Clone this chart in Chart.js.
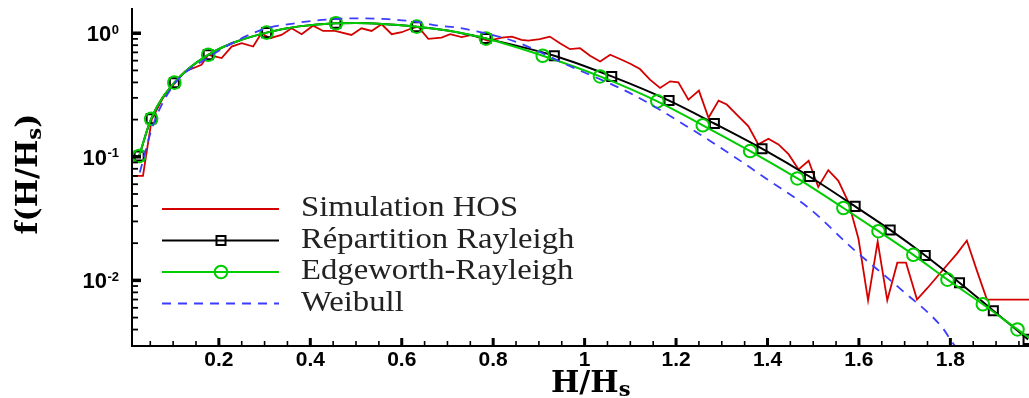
<!DOCTYPE html>
<html>
<head>
<meta charset="utf-8">
<script src="https://cdn.jsdelivr.net/npm/chart.js@4.4.0/dist/chart.umd.min.js"></script>
<style>
html,body{margin:0;padding:0;background:#fff;overflow:hidden;}
#wrap{width:1029px;height:398px;position:relative;}
</style>
</head>
<body>
<div id="wrap"><canvas id="c"></canvas></div>
<script>
// ---- data ----
const seriesLabels = ['Simulation HOS', 'Répartition Rayleigh', 'Edgeworth-Rayleigh', 'Weibull'];

const simX = [0.009,0.034,0.053,0.078,0.104,0.126,0.162,0.177,0.206,0.228,0.250,0.275,0.293,0.312,0.337,0.359,0.381,0.406,0.428,0.454,0.490,0.512,0.534,0.556,0.578,0.600,0.622,0.636,0.658,0.687,0.706,0.731,0.753,0.789,0.819,0.841,0.862,0.877,0.902,0.924,0.946,0.968,0.990,1.012,1.034,1.056,1.081,1.100,1.121,1.143,1.165,1.187,1.205,1.227,1.250,1.271,1.293,1.311,1.336,1.358,1.380,1.402,1.424,1.446,1.468,1.490,1.511,1.533,1.555,1.577,1.599,1.620,1.641,1.662,1.684,1.703,1.727,1.749,1.771,1.792,1.814,1.836,1.858,1.880,2.0];
const simY = [0.070,0.070,0.200,0.301,0.396,0.491,0.556,0.669,0.629,0.780,0.831,0.780,1.000,0.912,0.969,1.097,0.982,1.151,1.043,1.043,0.969,1.097,1.043,1.182,0.982,1.019,1.097,1.130,0.900,0.922,0.982,0.929,0.969,0.867,0.922,0.939,0.883,0.872,0.895,0.939,0.831,0.743,0.757,0.657,0.590,0.669,0.610,0.566,0.513,0.421,0.361,0.408,0.400,0.290,0.343,0.207,0.285,0.265,0.213,0.177,0.126,0.140,0.126,0.105,0.079,0.093,0.057,0.078,0.064,0.043,0.0217,0.0069,0.0206,0.0069,0.0139,0.0139,0.0070,0.0086,0.0107,0.0132,0.0164,0.0210,0.0120,0.0070,0.0070];

const rayX = [0.0256,0.0519,0.1026,0.1766,0.3044,0.456,0.5,0.6326,0.7,0.7843,0.9337,1.0593,1.1847,1.2838,1.388,1.4917,1.5917,1.6683,1.745,1.820,1.894,1.970];
const rayY = [0.1015,0.203,0.398,0.669,1.011,1.204,1.21,1.130,1.05,0.905,0.657,0.447,0.285,0.186,0.1164,0.0693,0.0397,0.0256,0.0159,0.00958,0.00568,0.00333];
const rayMark = [1,1,1,1,1,1,0,1,0,1,1,1,1,1,1,1,1,1,1,1,1,1];

const edgX = [0.0256,0.0519,0.1026,0.1766,0.3044,0.456,0.5,0.6326,0.7,0.7843,0.9083,1.0337,1.159,1.2584,1.362,1.4654,1.566,1.6427,1.719,1.7937,1.871,1.9468,1.975];
const edgY = [0.1015,0.203,0.398,0.669,1.011,1.204,1.21,1.130,1.05,0.905,0.657,0.447,0.281,0.180,0.1113,0.0668,0.0385,0.0250,0.0161,0.01014,0.00641,0.00401,0.00337];
const edgMark = [1,1,1,1,1,1,0,1,0,1,1,1,1,1,1,1,1,1,1,1,1,1,0];

const weiX = [0.027,0.056,0.1,0.175,0.293,0.366,0.425,0.498,0.57,0.629,0.68,0.724,0.767,0.826,0.862,0.961,1.106,1.223,1.325,1.399,1.493,1.587,1.69,1.784,1.803,1.85];
const weiY = [0.0746,0.18,0.376,0.63,1.063,1.204,1.28,1.32,1.30,1.24,1.15,1.109,1.03,0.91,0.82,0.556,0.3186,0.177,0.1015,0.0659,0.0378,0.018,0.00857,0.00408,0.0032,0.0019];

const xTickValues = [0.2,0.4,0.6,0.8,1.0,1.2,1.4,1.6,1.8];
const xTickLabels = ['0.2','0.4','0.6','0.8','1','1.2','1.4','1.6','1.8'];
const yTickValues = [1, 0.1, 0.01];
const yTickExponents = ['0','-1','-2'];

// ---- styles ----
const RED = '#d40000', BLACK = '#000000', GREEN = '#00cc00', BLUE = '#3c3cff';
const pts = (xs, ys) => xs.map((x, i) => ({x: x, y: ys[i]}));

const axesPlugin = {
  id: 'axesDecor',
  afterDatasetsDraw(chart) {
    const ctx = chart.ctx, xs = chart.scales.x, ys = chart.scales.y, a = chart.chartArea;
    ctx.save();
    ctx.strokeStyle = '#000'; ctx.fillStyle = '#000'; ctx.lineCap = 'butt';
    // axis lines
    ctx.lineWidth = 2;
    ctx.beginPath();
    ctx.moveTo(a.left, a.top); ctx.lineTo(a.left, a.bottom + 1); ctx.lineTo(a.right, a.bottom + 1);
    ctx.stroke();
    const yb = a.bottom + 1;
    // x minor ticks
    ctx.lineWidth = 1.6;
    for (let k = 1; k * 0.05 < xs.max; k++) {
      if (k % 4 === 0) continue;
      const px = xs.getPixelForValue(k * 0.05);
      if (px < a.left + 2) continue;
      ctx.beginPath(); ctx.moveTo(px, yb); ctx.lineTo(px, yb - 5); ctx.stroke();
    }
    // x major ticks & labels
    ctx.font = 'bold 21px "Liberation Sans", Arial, sans-serif';
    ctx.textAlign = 'center'; ctx.textBaseline = 'alphabetic';
    xTickValues.forEach((v, i) => {
      const px = xs.getPixelForValue(v);
      ctx.lineWidth = 3;
      ctx.beginPath(); ctx.moveTo(px, yb); ctx.lineTo(px, yb - 8); ctx.stroke();
      ctx.fillText(xTickLabels[i], px, 366);
    });
    // y minor ticks
    ctx.lineWidth = 1.8;
    for (let e = -3; e <= 0; e++) {
      for (let m = 2; m <= 9; m++) {
        const v = m * Math.pow(10, e);
        if (v < ys.min || v > ys.max) continue;
        const py = ys.getPixelForValue(v);
        if (py > a.bottom - 1) continue;
        ctx.beginPath(); ctx.moveTo(a.left, py); ctx.lineTo(a.left + 6, py); ctx.stroke();
      }
    }
    // y major ticks & labels
    yTickValues.forEach((v, i) => {
      const py = ys.getPixelForValue(v);
      ctx.lineWidth = 3.5;
      ctx.beginPath(); ctx.moveTo(a.left, py); ctx.lineTo(a.left + 9, py); ctx.stroke();
      ctx.font = 'bold 13px "Liberation Sans", Arial, sans-serif';
      ctx.textAlign = 'right';
      const ew = ctx.measureText(yTickExponents[i]).width;
      ctx.fillText(yTickExponents[i], 119, py + 0.5);
      ctx.font = 'bold 22px "Liberation Sans", Arial, sans-serif';
      ctx.fillText('10', 119 - ew - 0.5, py + 8);
    });
    // x title  H/H_s
    ctx.textAlign = 'left';
    ctx.font = 'bold 30px "DejaVu Serif", serif';
    ctx.fillText('H/H', 551, 392);
    const w1 = ctx.measureText('H/H').width;
    ctx.font = 'bold 21px "DejaVu Serif", serif';
    ctx.fillText('s', 551 + w1, 396);
    // y title f(H/H_s)
    ctx.save();
    ctx.translate(37, 174);
    ctx.rotate(-Math.PI / 2);
    ctx.font = 'bold 30px "DejaVu Serif", serif';
    const p1 = 'f(H/H', p3 = ')';
    const wa = ctx.measureText(p1).width, wc = ctx.measureText(p3).width;
    ctx.font = 'bold 21px "DejaVu Serif", serif';
    const wb = ctx.measureText('s').width;
    let x0 = -(wa + wb + wc) / 2;
    ctx.font = 'bold 30px "DejaVu Serif", serif';
    ctx.fillText(p1, x0, 0);
    ctx.font = 'bold 21px "DejaVu Serif", serif';
    ctx.fillText('s', x0 + wa, 4);
    ctx.font = 'bold 30px "DejaVu Serif", serif';
    ctx.fillText(p3, x0 + wa + wb, 0);
    ctx.restore();
    // legend
    const ds = chart.data.datasets;
    const legY0 = 209, legStep = 31.5;
    ds.forEach((d, i) => {
      const ly = legY0 + i * legStep;
      ctx.save();
      ctx.strokeStyle = d.borderColor; ctx.lineWidth = 2;
      ctx.setLineDash(d.borderDash || []);
      ctx.beginPath(); ctx.moveTo(162, ly); ctx.lineTo(279, ly); ctx.stroke();
      ctx.setLineDash([]);
      if (d.pointStyle === 'rect') {
        ctx.lineWidth = 2; ctx.strokeRect(216.5, ly - 4.5, 9, 9);
      } else if (d.pointStyle === 'circle' && d.legendMarker) {
        ctx.lineWidth = 2; ctx.beginPath(); ctx.arc(221, ly, 6.3, 0, Math.PI * 2); ctx.stroke();
      }
      ctx.restore();
      ctx.save();
      ctx.fillStyle = '#222';
      ctx.font = '30px "Liberation Serif", "Times New Roman", serif';
      ctx.textAlign = 'left';
      ctx.translate(301, ly + 7);
      ctx.scale(1.09, 1);
      ctx.fillText(d.label, 0, 0);
      ctx.restore();
    });
    ctx.restore();
  }
};

new Chart(document.getElementById('c'), {
  type: 'line',
  data: {
    datasets: [
      { label: seriesLabels[0], data: pts(simX, simY), borderColor: RED, borderWidth: 1.8,
        pointRadius: 0, tension: 0, order: 4, pointStyle: 'line' },
      { label: seriesLabels[1], data: pts(rayX, rayY), borderColor: BLACK, borderWidth: 2,
        pointStyle: 'rect', pointRadius: rayMark.map(m => m ? 6.4 : 0), pointBorderWidth: 2,
        pointBorderColor: BLACK, pointBackgroundColor: 'rgba(0,0,0,0)',
        cubicInterpolationMode: 'monotone', order: 3 },
      { label: seriesLabels[2], data: pts(edgX, edgY), borderColor: GREEN, borderWidth: 2,
        pointStyle: 'circle', legendMarker: true, pointRadius: edgMark.map(m => m ? 6.3 : 0), pointBorderWidth: 2,
        pointBorderColor: GREEN, pointBackgroundColor: 'rgba(0,0,0,0)',
        cubicInterpolationMode: 'monotone', order: 2 },
      { label: seriesLabels[3], data: pts(weiX, weiY), borderColor: BLUE, borderWidth: 1.8,
        borderDash: [9, 7], pointRadius: 0, cubicInterpolationMode: 'monotone', order: 1, pointStyle: 'line' }
    ]
  },
  options: {
    responsive: true,
    maintainAspectRatio: false,
    animation: false,
    events: [],
    layout: { autoPadding: false, padding: { left: 132, top: 8, right: 0, bottom: 53 } },
    scales: {
      x: { type: 'linear', min: 0.01, max: 1.972, display: false },
      y: { type: 'logarithmic', min: 0.003, max: 1.6, display: false }
    },
    plugins: { legend: { display: false }, tooltip: { enabled: false } }
  },
  plugins: [axesPlugin]
});
</script>
</body>
</html>
